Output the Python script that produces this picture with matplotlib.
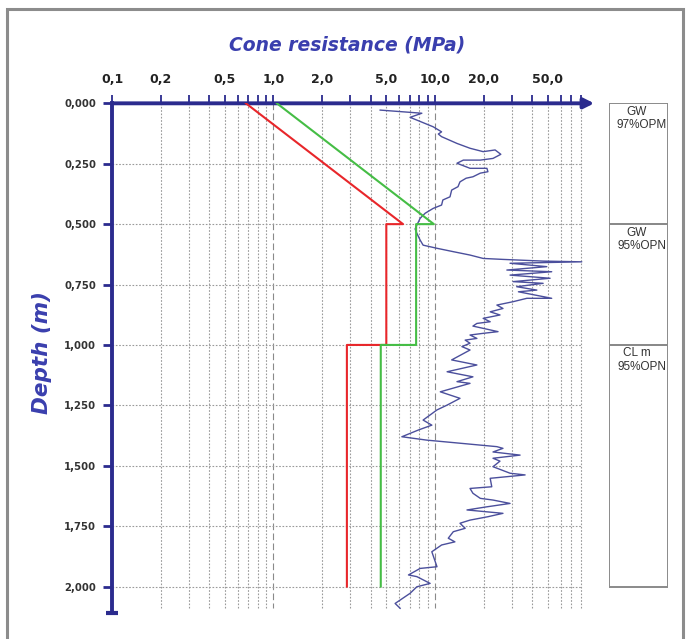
import numpy as np
import matplotlib
matplotlib.use('Agg')
import matplotlib.pyplot as plt
from matplotlib.patches import Rectangle

plt.rcParams['font.family'] = ['Liberation Sans', 'DejaVu Sans']

navy = '#2b2b8e'
label_blue = '#3a3fae'

# cone resistance trace (depth m, qc MPa)
cpt_depth = [0.028, 0.041, 0.058, 0.097, 0.118, 0.127, 0.138, 0.166, 0.186, 0.200,
             0.193, 0.211, 0.228, 0.235, 0.235, 0.248, 0.269, 0.269, 0.283, 0.289,
             0.304, 0.310, 0.325, 0.345, 0.359, 0.387, 0.400, 0.421, 0.435, 0.455,
             0.476, 0.504, 0.520, 0.538, 0.566, 0.587, 0.600, 0.614, 0.628, 0.642,
             0.646, 0.653, 0.656, 0.662, 0.676, 0.690, 0.697, 0.711, 0.724, 0.738,
             0.745, 0.759, 0.773, 0.780, 0.807, 0.807, 0.821, 0.835, 0.849, 0.863,
             0.876, 0.890, 0.904, 0.911, 0.922, 0.945, 0.952, 0.959, 0.973, 0.980,
             0.993, 1.007, 1.021, 1.062, 1.083, 1.111, 1.132, 1.152, 1.159, 1.194,
             1.221, 1.249, 1.269, 1.311, 1.332, 1.352, 1.380, 1.394, 1.421, 1.428,
             1.443, 1.456, 1.469, 1.481, 1.504, 1.531, 1.538, 1.552, 1.587, 1.594,
             1.614, 1.635, 1.642, 1.656, 1.670, 1.683, 1.697, 1.711, 1.725, 1.738,
             1.759, 1.773, 1.800, 1.815, 1.828, 1.856, 1.918, 1.925, 1.952, 1.959,
             1.987, 2.001, 2.028, 2.070, 2.090]
cpt_qc = [4.58, 8.30, 7.02, 9.75, 11.0, 10.5, 11.0, 13.7, 16.5, 19.9,
          23.6, 25.6, 22.9, 19.1, 15.0, 13.7, 16.5, 21.0, 21.3, 19.1,
          17.2, 15.6, 14.3, 13.9, 12.7, 12.4, 11.2, 11.0, 9.75, 8.70,
          8.10, 7.73, 7.54, 7.73, 8.10, 8.45, 10.3, 13.0, 16.5, 19.9,
          26.4, 46.8, 81.2, 29.2, 49.3, 27.9, 52.9, 29.2, 51.7, 30.5,
          46.8, 32.1, 42.8, 32.9, 52.9, 37.1, 30.5, 24.2, 26.4, 22.0,
          25.3, 19.9, 22.0, 18.2, 17.2, 24.6, 19.9, 16.5, 18.2, 15.4,
          16.5, 14.7, 16.5, 12.7, 18.2, 11.9, 17.2, 13.7, 16.5, 10.8,
          14.3, 11.9, 10.3, 8.45, 9.57, 7.91, 6.24, 8.91, 24.2, 26.4,
          22.9, 33.7, 22.9, 25.3, 22.9, 29.2, 36.2, 22.0, 22.5, 16.5,
          17.2, 19.1, 22.9, 29.2, 21.0, 15.8, 26.4, 21.3, 16.5, 14.3,
          15.4, 13.0, 12.1, 13.3, 11.0, 9.57, 10.3, 8.10, 6.86, 7.73,
          9.34, 7.73, 7.02, 5.67, 6.09]

# design lines
red_depth = [0.0, 0.5, 0.5, 1.0, 1.0, 2.0]
red_qc = [0.675, 6.35, 5.0, 5.0, 2.85, 2.85]
green_depth = [0.0, 0.5, 0.5, 1.0, 1.0, 2.0]
green_qc = [1.05, 9.85, 7.65, 7.65, 4.62, 4.62]

# layers
layer_top = [0.0, 0.5, 1.0]
layer_bot = [0.5, 1.0, 2.0]
layer_soil = ['GW', 'GW', 'CL m']
layer_comp = ['97%OPM', '95%OPN', '95%OPN']

x_major = [0.1, 0.2, 0.5, 1.0, 2.0, 5.0, 10.0, 20.0, 50.0]
x_major_lbl = ['0,1', '0,2', '0,5', '1,0', '2,0', '5,0', '10,0', '20,0', '50,0']
x_minor = [0.3, 0.4, 0.6, 0.7, 0.8, 0.9, 3, 4, 6, 7, 8, 9, 30, 40, 60, 70, 80]
y_ticks = [0.0, 0.25, 0.5, 0.75, 1.0, 1.25, 1.5, 1.75, 2.0]
y_lbl = ['0,000', '0,250', '0,500', '0,750', '1,000', '1,250', '1,500', '1,750', '2,000']

fig = plt.figure(figsize=(6.88, 6.39), dpi=100)
fig.patch.set_facecolor('white')

# outer frame
fig.add_artist(Rectangle((7/688, -0.05), 676/688, 1 - 9/639 + 0.05,
                         transform=fig.transFigure, fill=False,
                         edgecolor='#8c8c8c', lw=2.2))

ax = fig.add_axes([0.1628, 0.0405, 0.6955, 0.7978])
ax.set_xscale('log')
ax.set_xlim(0.1, 92)
ax.set_ylim(2.11, 0)

# grid
for v in x_major + x_minor:
    if v in (1.0, 10.0):
        ax.plot([v, v], [0, 2.09], color='#8a8a8a', lw=0.8, ls=(0, (6, 3)), zorder=1)
    elif v > 0.1:
        ax.plot([v, v], [0, 2.09], color='#9a9a9a', lw=0.8, ls=(0, (1.5, 1.5)), zorder=1)
for h in y_ticks[1:]:
    ax.plot([0.1, 82], [h, h], color='#9a9a9a', lw=0.8, ls=(0, (1.5, 1.5)), zorder=1)

ax.plot(cpt_qc, cpt_depth, color='#4b4f9c', lw=1.0, zorder=3)
ax.plot(red_qc, red_depth, color='#e8262a', lw=1.5, zorder=4)
ax.plot(green_qc, green_depth, color='#45bd45', lw=1.5, zorder=4)

for s in ['right', 'bottom', 'top']:
    ax.spines[s].set_visible(False)
ax.spines['left'].set_color(navy)
ax.spines['left'].set_linewidth(2.8)
ax.annotate('', xy=(97, 0), xytext=(0.1, 0), annotation_clip=False,
            arrowprops=dict(arrowstyle='-|>,head_length=0.6,head_width=0.3',
                            color=navy, lw=2.8, shrinkA=0, shrinkB=0))
ax.plot([0.1], [2.11], marker='_', ms=9, mew=3, color=navy, clip_on=False)

ax.xaxis.tick_top()
ax.set_xticks(x_major)
ax.set_xticklabels(x_major_lbl)
ax.set_xticks(x_minor, minor=True)
ax.xaxis.set_minor_formatter(plt.NullFormatter())
ax.tick_params(axis='x', which='both', length=5.5, width=1.3, color=navy, pad=7)
for t in ax.get_xticklabels():
    t.set_fontweight('bold')
    t.set_color('#222222')
    t.set_family('DejaVu Sans')
    t.set_fontsize(9)

ax.set_yticks(y_ticks)
ax.set_yticklabels(y_lbl)
ax.tick_params(axis='y', length=6.5, width=2, color=navy, pad=5)
for t in ax.get_yticklabels():
    t.set_fontweight('bold')
    t.set_color('#333333')
    t.set_family('DejaVu Sans')
    t.set_fontsize(7.3)

fig.text(347/688, 1 - 45/639, 'Cone resistance (MPa)', ha='center', va='center',
         fontsize=13.5, fontweight='bold', fontstyle='italic', color=label_blue,
         family='DejaVu Sans')
fig.text(42/688, 1 - 352/639, 'Depth (m)', ha='center', va='center', rotation=90,
         fontsize=15.5, fontweight='bold', fontstyle='italic', color=label_blue,
         family='DejaVu Sans')

# layer column
bx = fig.add_axes([609/688, 0.0405, 59.3/688, 0.7978])
bx.set_xlim(0, 1)
bx.set_ylim(2.11, 0)
bx.axis('off')
for top, bot, soil, comp in zip(layer_top, layer_bot, layer_soil, layer_comp):
    bx.add_patch(Rectangle((0, top), 1, bot - top, fill=False,
                           edgecolor='#8a8a8a', lw=1.4))
    bx.text(0.47, top + 0.035, soil, ha='center', va='center', fontsize=8.5, color='#333333')
    bx.text(0.55, top + 0.09, comp, ha='center', va='center', fontsize=8.5, color='#333333')

fig.savefig('out.png', dpi=100)
